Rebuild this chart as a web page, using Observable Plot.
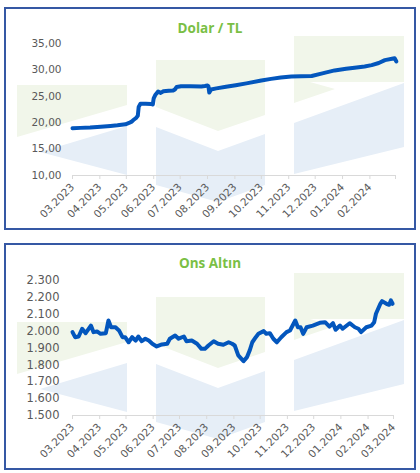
<!DOCTYPE html>
<html>
<head>
<meta charset="utf-8">
<script src="https://cdn.jsdelivr.net/npm/d3@7"></script>
<script src="https://cdn.jsdelivr.net/npm/@observablehq/plot@0.6"></script>
<style>
  html, body { margin: 0; padding: 0; background: #fff; }
  #page { position: relative; width: 420px; height: 473px; overflow: hidden; }
  .panel { position: absolute; left: 4px; width: 412px; box-sizing: border-box; border: 2px solid #3558a4; z-index: 3; }
  .title { position: absolute; left: 0; width: 420px; text-align: center; font-family: "Open Sans", sans-serif; font-weight: 700; font-size: 13.5px; color: #7abf45; z-index: 4; }
  .plot { position: absolute; left: 0; z-index: 2; }
  #wm { position: absolute; left: 0; top: 0; z-index: 1; }
</style>
</head>
<body>
<div id="page">
  <svg id="wm" width="420" height="473"></svg>
  <div class="panel" style="top:7px;height:223px"></div>
  <div class="panel" style="top:243px;height:227px"></div>
  <div class="title" style="top:19px">Dolar / TL</div>
  <div class="title" style="top:254px">Ons Altın</div>
  <div class="plot" id="p1" style="top:0px"></div>
  <div class="plot" id="p2" style="top:238px"></div>
</div>
<script>
// ---- data ----
const monthTicks = ["2023-03-01","2023-04-01","2023-05-01","2023-06-01","2023-07-01","2023-08-01","2023-09-01","2023-10-01","2023-11-01","2023-12-01","2024-01-01","2024-02-01","2024-03-01"];
const usdTicks = [10, 15, 20, 25, 30, 35];
const xauTicks = [1500, 1600, 1700, 1800, 1900, 2000, 2100, 2200, 2300];

const usdDates = ["2023-03-01","2023-03-10","2023-03-21","2023-04-02","2023-04-13","2023-04-21","2023-04-30","2023-05-04","2023-05-07","2023-05-09","2023-05-12","2023-05-14","2023-05-15","2023-05-17","2023-05-23","2023-05-29","2023-05-31","2023-06-01","2023-06-03","2023-06-06","2023-06-09","2023-06-12","2023-06-18","2023-06-23","2023-06-25","2023-06-27","2023-07-02","2023-07-13","2023-07-25","2023-07-29","2023-08-01","2023-08-02","2023-08-03","2023-08-05","2023-08-11","2023-08-22","2023-09-02","2023-09-14","2023-10-01","2023-10-12","2023-10-23","2023-11-04","2023-11-15","2023-11-27","2023-12-08","2023-12-23","2024-01-05","2024-01-17","2024-01-26","2024-02-03","2024-02-11","2024-02-18","2024-02-26","2024-02-29","2024-03-02"];
const usdValues = [18.95,19.02,19.10,19.25,19.38,19.50,19.70,19.95,20.20,20.50,20.90,21.30,23.00,23.60,23.60,23.55,23.45,24.60,25.30,25.90,25.65,25.95,26.05,26.10,26.30,26.75,26.90,26.90,26.85,26.95,27.05,26.90,25.70,26.30,26.50,26.80,27.10,27.45,28.00,28.30,28.55,28.75,28.80,28.85,29.30,29.90,30.20,30.45,30.65,30.90,31.30,31.85,32.10,32.20,31.60];

const xauDates = ["2023-03-01","2023-03-04","2023-03-08","2023-03-12","2023-03-16","2023-03-22","2023-03-25","2023-03-29","2023-04-02","2023-04-08","2023-04-11","2023-04-14","2023-04-19","2023-04-23","2023-04-27","2023-04-30","2023-05-04","2023-05-08","2023-05-12","2023-05-15","2023-05-19","2023-05-23","2023-05-27","2023-05-31","2023-06-05","2023-06-11","2023-06-17","2023-06-20","2023-06-26","2023-06-30","2023-07-06","2023-07-09","2023-07-15","2023-07-21","2023-07-26","2023-07-30","2023-08-03","2023-08-09","2023-08-14","2023-08-20","2023-08-26","2023-08-30","2023-09-02","2023-09-06","2023-09-12","2023-09-16","2023-09-19","2023-09-22","2023-09-26","2023-09-29","2023-10-05","2023-10-08","2023-10-12","2023-10-16","2023-10-20","2023-10-25","2023-10-31","2023-11-04","2023-11-10","2023-11-13","2023-11-16","2023-11-19","2023-11-23","2023-11-30","2023-12-08","2023-12-14","2023-12-19","2023-12-23","2023-12-26","2023-12-31","2024-01-03","2024-01-11","2024-01-17","2024-01-21","2024-01-24","2024-01-30","2024-02-05","2024-02-08","2024-02-10","2024-02-15","2024-02-17","2024-02-22","2024-02-25","2024-02-27","2024-02-29"];
const xauValues = [1994,1964,1968,2014,1988,2033,1994,1998,1984,1988,2063,2023,2023,2004,1964,1964,1934,1964,1944,1968,1940,1955,1944,1925,1909,1921,1925,1955,1974,1955,1968,1940,1944,1925,1895,1895,1915,1940,1925,1919,1934,1925,1915,1856,1822,1846,1885,1934,1964,1984,2000,1984,1988,1955,1934,1964,1994,2004,2063,2023,2023,1984,2023,2033,2049,2053,2027,2047,2008,2033,2014,2047,2023,2014,1994,2023,2033,2053,2103,2162,2178,2162,2156,2182,2162];

// ---- helpers ----
const parse = d3.utcParse("%Y-%m-%d");
const tickDates = monthTicks.map(parse);
const fmtMonth = d3.utcFormat("%m.%Y");
const usd = usdDates.map((d, i) => ({date: parse(d), value: usdValues[i]}));
const xau = xauDates.map((d, i) => ({date: parse(d), value: xauValues[i]}));
const xDomain = [tickDates[0], tickDates[tickDates.length - 1]];
const lineColor = "#0356bd";
const axisGray = "#d9d9d9";
const labelGray = "#595959";
const font = "'DejaVu Sans', sans-serif";

// ---- watermark (decorative background) ----
const wmGreen = "#f1f6ea", wmBlue = "#e6eef7";
const wmShapes = [
  {fill: wmGreen, pts: [[17,85],[127,85],[127,105],[17,137]]},
  {fill: wmBlue,  pts: [[40,152],[127,126],[127,175]]},
  {fill: wmGreen, pts: [[156,60],[265,60],[265,115],[218,131],[156,107]]},
  {fill: wmBlue,  pts: [[156,127],[218,151],[265,134],[265,185],[218,202],[156,185]]},
  {fill: wmGreen, pts: [[294,36],[404,36],[404,82],[310,82],[335,89],[294,103]]},
  {fill: wmBlue,  pts: [[294,123],[404,83],[404,147],[294,174]]}
];
const wm = d3.select("#wm");
[0, 237].forEach(off => {
  wmShapes.forEach(s => {
    wm.append("polygon")
      .attr("points", s.pts.map(p => [p[0], p[1] + off].join(",")).join(" "))
      .attr("fill", s.fill);
  });
});

// ---- charts ----
function chart({data, height, marginTop, marginBottom, marginRight, yDomain, yTicks, yFmt, yPad, yFont, xFmt}) {
  return Plot.plot({
    width: 420,
    height,
    marginLeft: 72,
    marginRight,
    marginTop,
    marginBottom,
    style: {background: "transparent", fontFamily: font, fontSize: "10.5px", color: labelGray, overflow: "visible"},
    x: {type: "utc", domain: xDomain, label: null},
    y: {domain: yDomain, label: null},
    marks: [
      Plot.ruleY([yDomain[0]], {stroke: axisGray, strokeWidth: 1.2}),
      Plot.axisX({ticks: tickDates, tickSize: 4, tickPadding: 6, tickRotate: -45, tickFormat: xFmt, stroke: axisGray, fill: labelGray, fontSize: 10.5}),
      Plot.axisY({ticks: yTicks, tickSize: 0, tickPadding: yPad, tickFormat: yFmt, fill: labelGray, fontSize: yFont}),
      Plot.line(data, {x: "date", y: "value", stroke: lineColor, strokeWidth: 4, strokeLinejoin: "round", strokeLinecap: "round"})
    ]
  });
}

document.getElementById("p1").append(chart({
  data: usd, height: 230, marginTop: 43, marginBottom: 55, marginRight: 25,
  yDomain: [10, 35], yTicks: usdTicks,
  yFmt: v => v.toFixed(2).replace(".", ","), yPad: 11, yFont: 10.5,
  xFmt: (d, i) => i === tickDates.length - 1 ? "" : fmtMonth(d)
}));

document.getElementById("p2").append(chart({
  data: xau, height: 235, marginTop: 42, marginBottom: 58, marginRight: 27,
  yDomain: [1500, 2300], yTicks: xauTicks,
  yFmt: v => d3.format(",")(v).replace(/,/g, "."), yPad: 13, yFont: 11.5,
  xFmt: d => fmtMonth(d)
}));
</script>
</body>
</html>
